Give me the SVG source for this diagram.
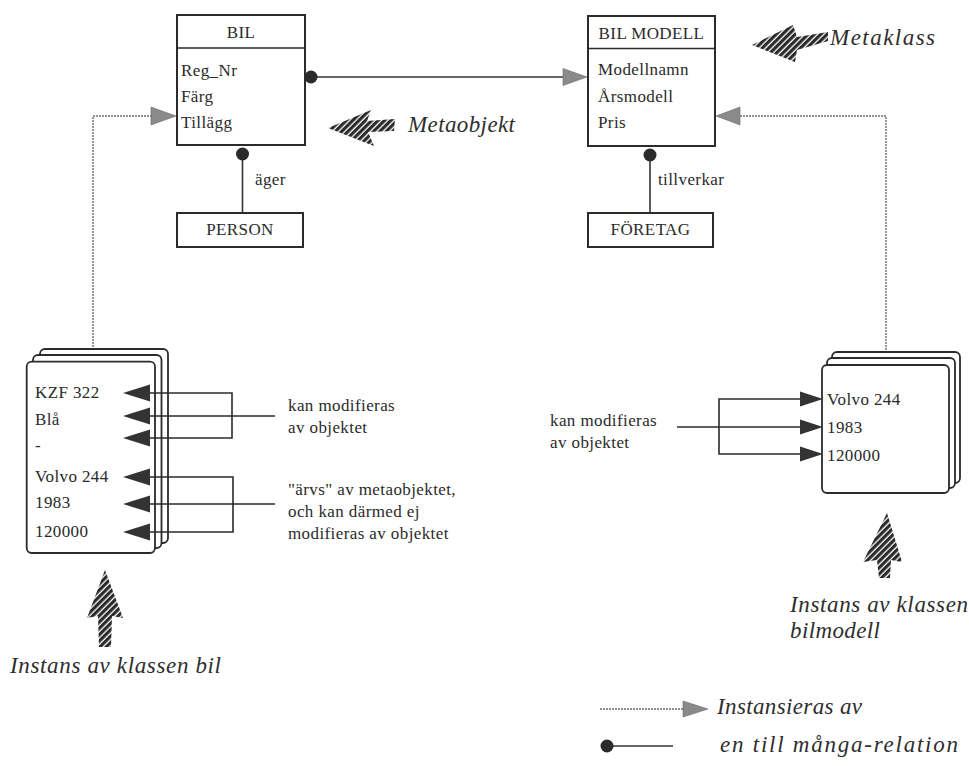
<svg xmlns="http://www.w3.org/2000/svg" width="969" height="766" viewBox="0 0 969 766">
  <defs>
    <style>
      .box { fill: #fff; stroke: #2b2b2b; stroke-width: 2; }
      .card { fill: #fff; stroke: #2b2b2b; stroke-width: 1.8; }
      .t { font-family: "Liberation Serif", "Times New Roman", serif; font-size: 17px; fill: #2a2a2a; letter-spacing: 0.4px; }
      .mid { text-anchor: middle; }
      .it { font-family: "Liberation Serif", "Times New Roman", serif; font-style: italic; font-size: 23px; fill: #2e2e2e; }
      .inst { fill: none; stroke: #6e6e6e; stroke-width: 1.4; stroke-dasharray: 2 1; }
      .rel { fill: none; stroke: #333; stroke-width: 1.6; }
      .ln { fill: none; stroke: #2b2b2b; stroke-width: 1.6; }
      .dot { fill: #2b2b2b; }
      .ghead { fill: #8a8a8a; stroke: #6a6a6a; stroke-width: 0.6; }
      .bhead { fill: #333; }
      .hatch { fill: url(#stripes); }
    </style>
    <pattern id="stripes" width="4.5" height="4.5" patternUnits="userSpaceOnUse" patternTransform="rotate(45)">
      <rect width="4.5" height="4.5" fill="#fff"/>
      <rect width="3.2" height="4.5" fill="#2a2a2a"/>
    </pattern>
  </defs>

  <rect width="969" height="766" fill="#fff"/>

  <!-- connectors -->
  <g id="connectors">
    <!-- BIL to BIL MODELL, one-to-many -->
    <line class="rel" x1="311" y1="77" x2="566" y2="77"/>
    <circle class="dot" cx="311" cy="77" r="6.5"/>
    <polygon class="ghead" points="563,68.5 587,77 563,85.5"/>

    <!-- BIL to PERSON -->
    <line class="rel" x1="242.5" y1="154" x2="242.5" y2="213"/>
    <circle class="dot" cx="242.5" cy="154" r="6.5"/>

    <!-- BIL MODELL to FÖRETAG -->
    <line class="rel" x1="650" y1="155" x2="650" y2="213"/>
    <circle class="dot" cx="650" cy="155" r="6.5"/>

    <!-- instance of BIL -->
    <polyline class="inst" points="93,362 93,116 152,116"/>
    <polygon class="ghead" points="151,107 176,116 151,125"/>

    <!-- instance of BIL MODELL -->
    <polyline class="inst" points="886,365 886,116 738,116"/>
    <polygon class="ghead" points="740,107 716,116 740,125"/>
  </g>

  <!-- class boxes -->
  <g id="bil">
    <rect class="box" x="177" y="15" width="128" height="130"/>
    <line class="ln" x1="177" y1="48" x2="305" y2="48" stroke-width="2"/>
    <text class="t mid" x="241" y="38">BIL</text>
    <text class="t" x="181" y="76">Reg_Nr</text>
    <text class="t" x="181" y="102">Färg</text>
    <text class="t" x="181" y="128">Tillägg</text>
  </g>

  <g id="bilmodell">
    <rect class="box" x="588" y="16" width="127" height="130"/>
    <line class="ln" x1="588" y1="48.5" x2="715" y2="48.5" stroke-width="2"/>
    <text class="t mid" x="651.5" y="39" letter-spacing="0">BIL MODELL</text>
    <text class="t" x="598" y="75">Modellnamn</text>
    <text class="t" x="598" y="102">Årsmodell</text>
    <text class="t" x="598" y="128">Pris</text>
  </g>

  <g id="person">
    <rect class="box" x="177" y="213" width="126" height="34"/>
    <text class="t mid" x="240" y="235">PERSON</text>
  </g>

  <g id="foretag">
    <rect class="box" x="588" y="213" width="125" height="34"/>
    <text class="t mid" x="650.5" y="235">FÖRETAG</text>
  </g>

  <text class="t" x="255" y="185">äger</text>
  <text class="t" x="658" y="185">tillverkar</text>

  <!-- car instance: stacked cards -->
  <g id="bil-instans">
    <rect class="card" x="40" y="349" width="128" height="194" rx="5"/>
    <rect class="card" x="33" y="355" width="128.5" height="193" rx="5"/>
    <rect class="card" x="26.7" y="361.7" width="128.3" height="191.3" rx="5"/>
    <text class="t" x="35" y="398">KZF 322</text>
    <text class="t" x="35" y="425">Blå</text>
    <text class="t" x="35" y="451">-</text>
    <text class="t" x="35" y="482">Volvo 244</text>
    <text class="t" x="35" y="508">1983</text>
    <text class="t" x="35" y="537">120000</text>
  </g>

  <!-- brackets pointing into the car instance -->
  <g id="bil-brackets">
    <polygon class="bhead" points="123,393 150,384.5 150,401.5"/>
    <polygon class="bhead" points="123,416 150,407.5 150,424.5"/>
    <polygon class="bhead" points="123,438 150,429.5 150,446.5"/>
    <polyline class="ln" points="150,393 232,393 232,438 150,438"/>
    <line class="ln" x1="150" y1="416" x2="275" y2="416"/>

    <polygon class="bhead" points="123,477 150,468.5 150,485.5"/>
    <polygon class="bhead" points="123,504 150,495.5 150,512.5"/>
    <polygon class="bhead" points="123,532 150,523.5 150,540.5"/>
    <polyline class="ln" points="150,477 233,477 233,532 150,532"/>
    <line class="ln" x1="150" y1="504" x2="275" y2="504"/>

    <text class="t" x="288" y="411">kan modifieras</text>
    <text class="t" x="288" y="433">av objektet</text>
    <text class="t" x="288" y="495">"ärvs" av metaobjektet,</text>
    <text class="t" x="288" y="517">och kan därmed ej</text>
    <text class="t" x="288" y="539">modifieras av objektet</text>
  </g>

  <!-- car model instance: stacked cards -->
  <g id="bilmodell-instans">
    <rect class="card" x="832" y="352" width="128" height="131" rx="5"/>
    <rect class="card" x="827" y="358" width="128" height="130" rx="5"/>
    <rect class="card" x="822" y="365" width="127" height="128" rx="5"/>
    <text class="t" x="827" y="405">Volvo 244</text>
    <text class="t" x="827" y="433">1983</text>
    <text class="t" x="827" y="461">120000</text>
  </g>

  <g id="bilmodell-brackets">
    <polygon class="bhead" points="823,399 800,391.5 800,406.5"/>
    <polygon class="bhead" points="823,427 800,419.5 800,434.5"/>
    <polygon class="bhead" points="823,454 800,446.5 800,461.5"/>
    <polyline class="ln" points="800,399 719,399 719,454 800,454"/>
    <line class="ln" x1="677" y1="427" x2="800" y2="427"/>
    <text class="t" x="550" y="426">kan modifieras</text>
    <text class="t" x="550" y="448">av objektet</text>
  </g>

  <!-- hatched pointer arrows with captions -->
  <g id="metaobjekt">
    <polygon class="hatch" points="328,128 371,110 367,121 395,119 394,131 368,132 374,146"/>
    <text class="it" x="408" y="132" textLength="107" lengthAdjust="spacing">Metaobjekt</text>
  </g>

  <g id="metaklass">
    <polygon class="hatch" points="752,45 793,25 797,37 828,32 828,41 797,50 795,62"/>
    <text class="it" x="830" y="45" textLength="105" lengthAdjust="spacing">Metaklass</text>
  </g>

  <g id="instans-bil">
    <polygon class="hatch" points="105,570 123,618 112,616 111,647 99,647 98,616 87,618"/>
    <text class="it" x="10" y="673" textLength="211" lengthAdjust="spacing">Instans av klassen bil</text>
  </g>

  <g id="instans-bilmodell">
    <polygon class="hatch" points="887,513 902,562 891,560 890,578 879,578 877,560 863,562"/>
    <text class="it" x="790" y="612" textLength="178" lengthAdjust="spacing">Instans av klassen</text>
    <text class="it" x="790" y="638" textLength="90" lengthAdjust="spacing">bilmodell</text>
  </g>

  <!-- legend -->
  <g id="legend">
    <line class="inst" x1="600" y1="709" x2="685" y2="709"/>
    <polygon class="ghead" points="683,701 708,709 683,717"/>
    <text class="it" x="717" y="714" textLength="145" lengthAdjust="spacing">Instansieras av</text>
    <line class="rel" x1="607" y1="746" x2="673" y2="746"/>
    <circle class="dot" cx="607" cy="746" r="6.5"/>
    <text class="it" x="720" y="752" textLength="238" lengthAdjust="spacing">en till många-relation</text>
  </g>
</svg>
